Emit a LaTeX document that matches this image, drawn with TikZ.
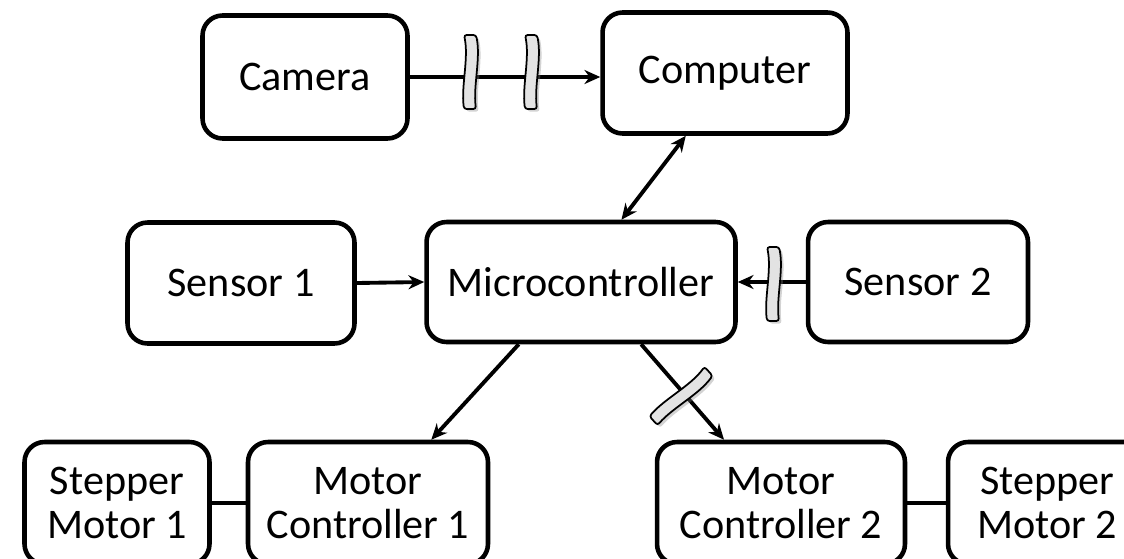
\documentclass[tikz,border=0pt]{standalone}
\usepackage{fontspec}
\setmainfont{Carlito}
\usetikzlibrary{arrows.meta,shadows}
\tikzset{
	box/.style={draw, line width=2.6pt, rounded corners=0.4cm, align=center, inner sep=0pt, font=\fontsize{24}{25}\selectfont},
	tip/.tip={Stealth[length=9pt,width=8pt]},
	link/.style={line width=2.2pt, -tip},
	brk/.pic={\path[draw, line width=1pt, fill=gray!22, rounded corners=1.5pt, drop shadow={shadow xshift=1.5pt, shadow yshift=-1.5pt, opacity=0.35}]
		(-6,-37) .. controls (-1,-14) and (-9,14) .. (-6,37) -- (6,37) .. controls (3,14) and (11,-14) .. (6,-37) -- cycle;}
}
\begin{document}
\begin{tikzpicture}[x=0.02cm, y=-0.02cm]
	\useasboundingbox (0, 0) rectangle (1124, 558);
	\clip (0, 0) rectangle (1124, 558);
	\node[box, minimum width=4.1cm, minimum height=2.46cm] (cam) at (305, 77) {Camera};
	\node[box, minimum width=4.9cm, minimum height=2.42cm] (comp) at (725, 73) {Computer};
	\node[box, minimum width=4.54cm, minimum height=2.42cm] (sens1) at (241, 283) {Sensor 1};
	\node[box, minimum width=6.18cm, minimum height=2.4cm] (mcu) at (581, 282) {Microcontroller};
	\node[box, minimum width=4.4cm, minimum height=2.4cm] (sens2) at (918, 282) {Sensor 2};
	\node[box, minimum width=3.7cm, minimum height=2.44cm] (stp1) at (117, 503) {Stepper\\Motor 1};
	\node[box, minimum width=4.8cm, minimum height=2.44cm] (mc1) at (368, 503) {Motor\\Controller 1};
	\node[box, minimum width=4.96cm, minimum height=2.44cm] (mc2) at (781, 503) {Motor\\Controller 2};
	\node[box, minimum width=3.96cm, minimum height=2.44cm] (stp2) at (1047, 503) {Stepper\\Motor 2};
	\draw[link] (cam.east) -- (comp.west |- cam.east);
	\draw[link, tip-tip] (comp.238) -- (mcu.57);
	\draw[link] (sens1.east) -- (mcu.west);
	\draw[link] (sens2.west) -- (mcu.east);
	\draw[link] (mcu.225) -- (mc1.45);
	\draw[link] (mcu.314) -- (mc2.132);
	\draw[line width=2.2pt] (stp1.east) -- (mc1.west);
	\draw[line width=2.2pt] (mc2.east) -- (stp2.west);
	% breaks on the wireless links
	\pic at (470, 72) {brk};
	\pic at (531, 72) {brk};
	\pic at (773, 284) {brk};
	\pic[rotate=-48] at (681, 396) {brk};
\end{tikzpicture}
\end{document}
